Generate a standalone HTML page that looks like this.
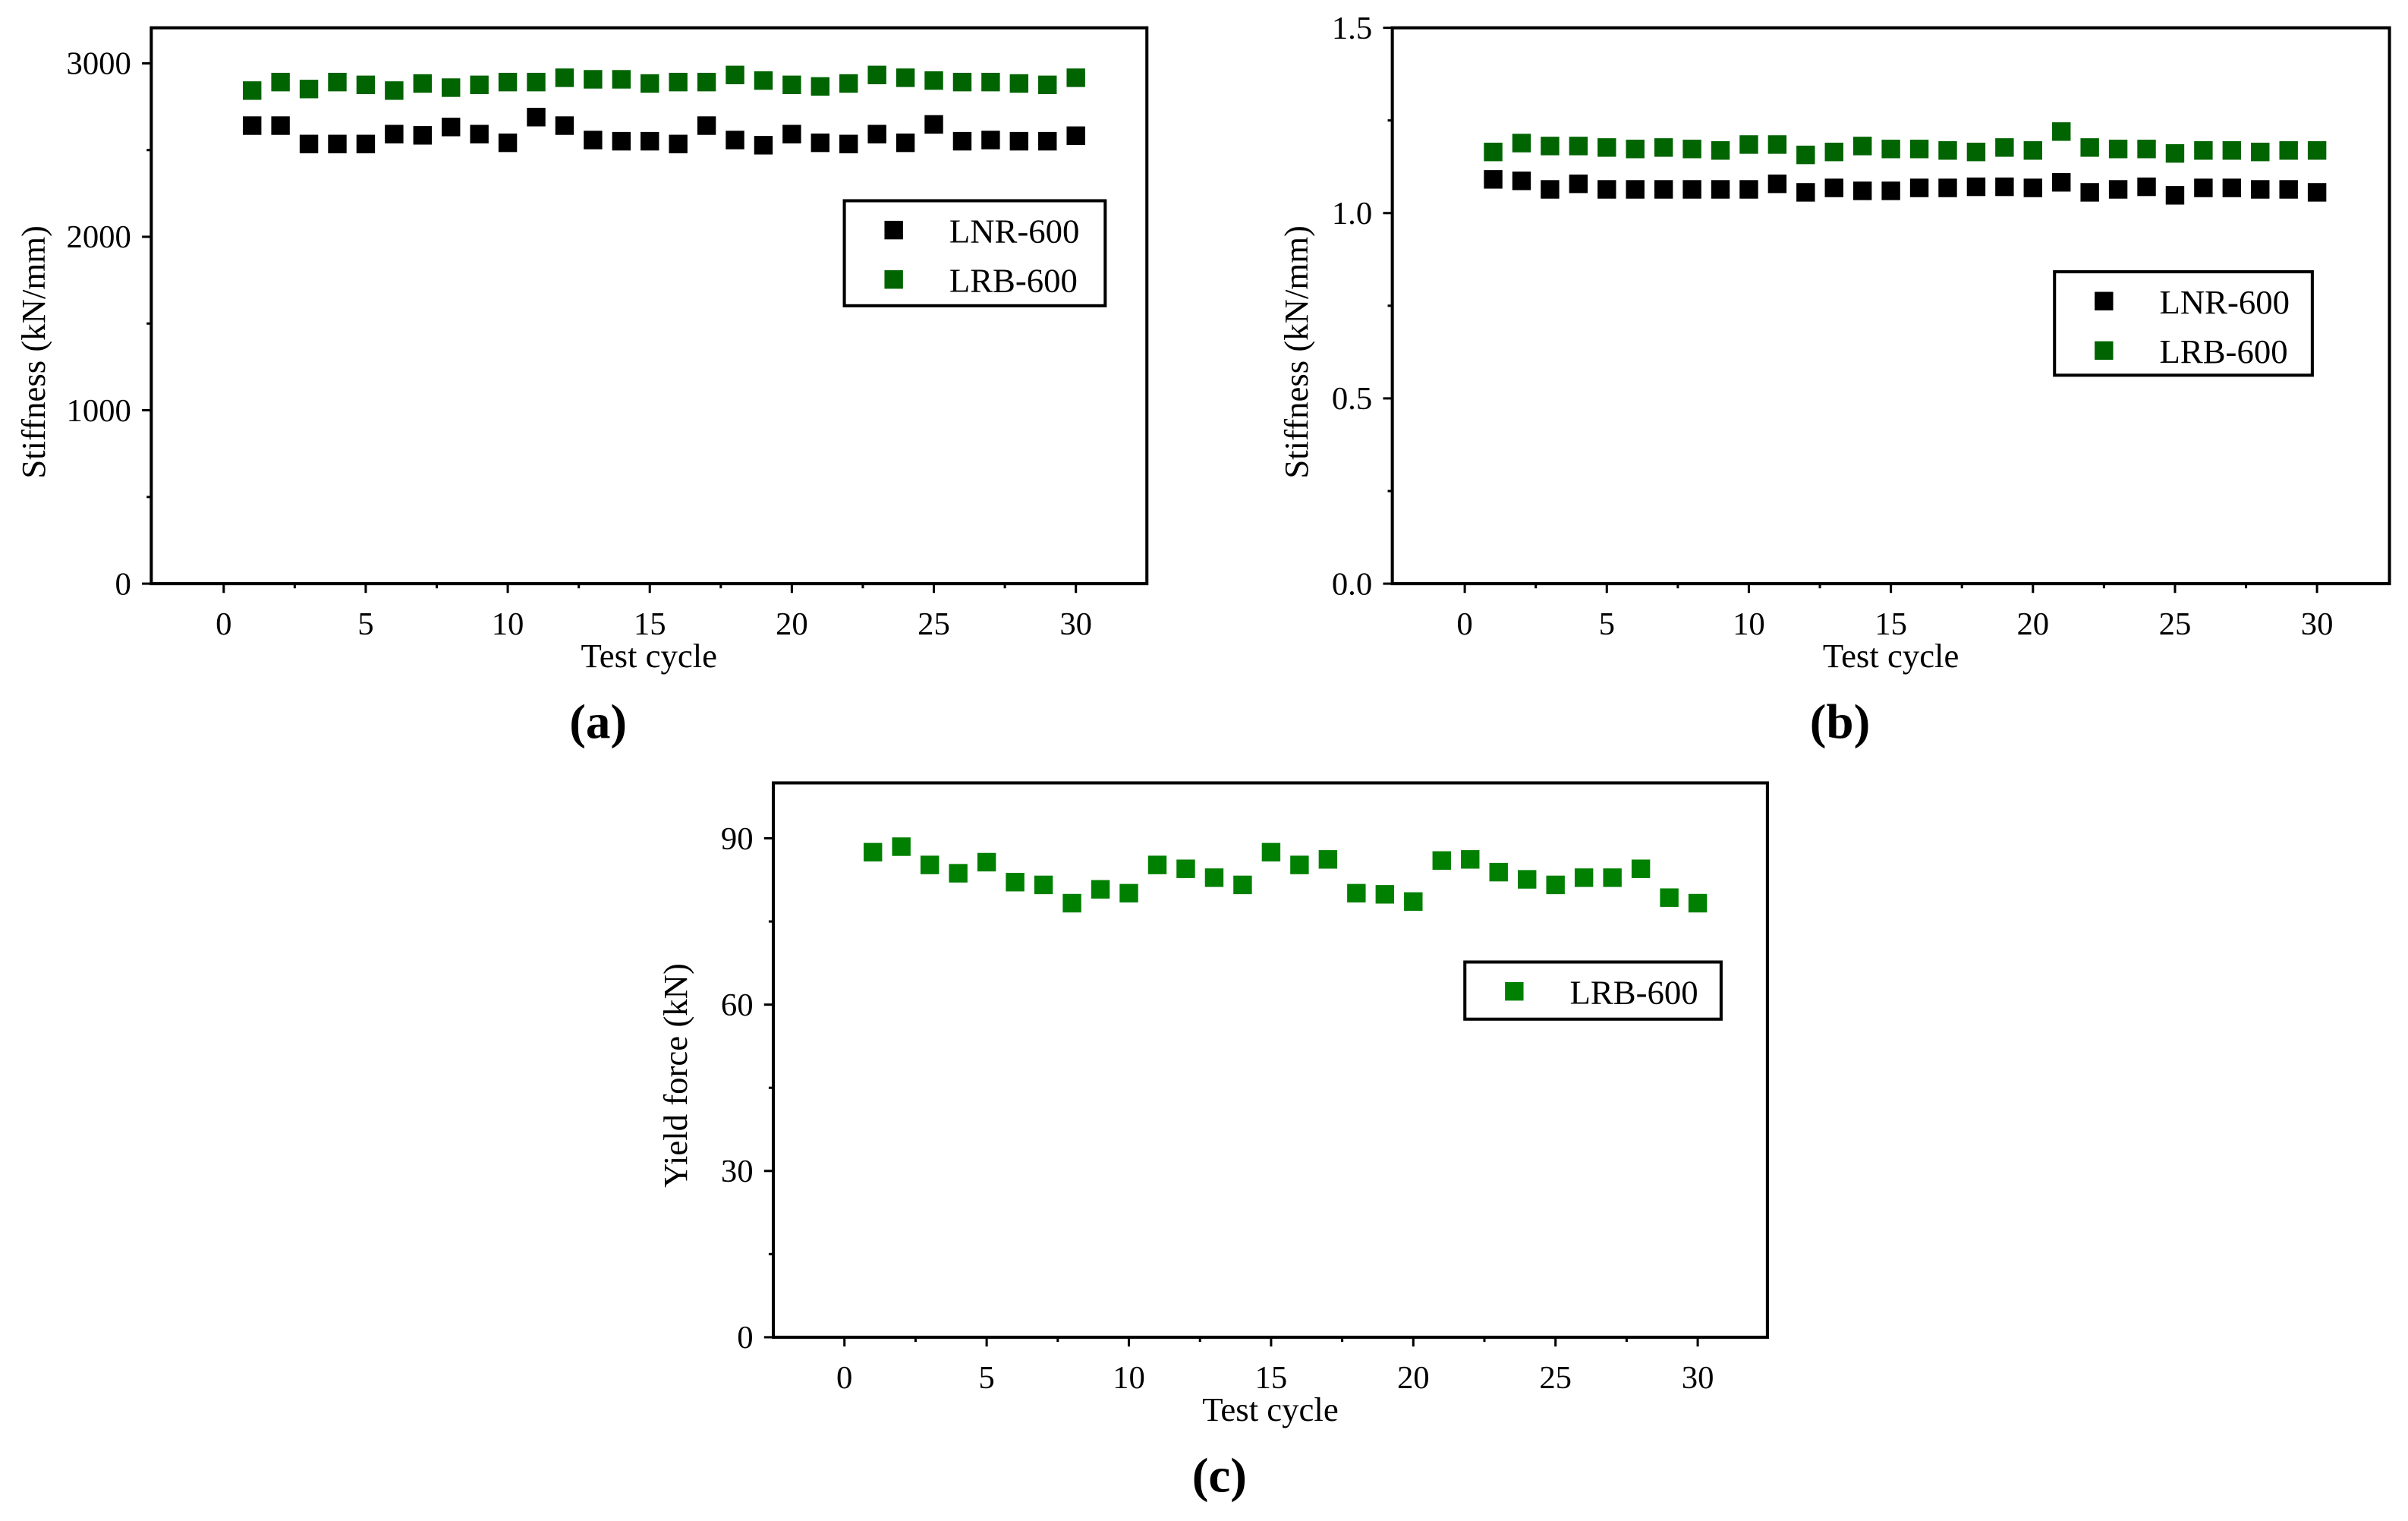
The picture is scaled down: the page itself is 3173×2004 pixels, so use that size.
<!DOCTYPE html>
<html><head><meta charset="utf-8"><style>
html,body{margin:0;padding:0;background:#fff}
svg{display:block}
svg text{font-family:"Liberation Serif","Times New Roman",serif;fill:#000}
</style></head><body>
<svg id="fig" width="3173" height="2004" viewBox="0 0 1560 985" preserveAspectRatio="none" xmlns="http://www.w3.org/2000/svg" font-family="Liberation Serif, serif"></svg>
<script>
const cycles = Array.from({length:30},(_,i)=>i+1);
const aLNR = [2641,2641,2535,2535,2535,2592,2585,2633,2592,2542,2690,2641,2558,2551,2551,2535,2641,2558,2528,2592,2542,2535,2592,2542,2648,2551,2558,2551,2551,2583];
const aLRB = [2843,2892,2852,2892,2876,2843,2884,2860,2876,2892,2892,2917,2908,2908,2884,2892,2892,2933,2901,2876,2867,2884,2933,2917,2901,2892,2892,2884,2876,2917];
const bLNR = [1.091,1.087,1.064,1.079,1.064,1.064,1.064,1.064,1.064,1.064,1.079,1.056,1.068,1.060,1.060,1.068,1.068,1.071,1.071,1.068,1.083,1.056,1.064,1.071,1.048,1.068,1.068,1.064,1.064,1.056];
const bLRB = [1.165,1.189,1.181,1.181,1.177,1.173,1.177,1.173,1.169,1.185,1.185,1.157,1.165,1.181,1.173,1.173,1.169,1.165,1.177,1.169,1.220,1.177,1.173,1.173,1.161,1.169,1.169,1.165,1.169,1.169];
const cLRB = [87.5,88.5,85.2,83.7,85.7,82.1,81.6,78.3,80.8,80.1,85.2,84.5,82.9,81.6,87.5,85.2,86.2,80.1,79.9,78.6,86.0,86.2,83.9,82.6,81.6,82.9,82.9,84.5,79.3,78.3];
const xTicks = [0,5,10,15,20,25,30];
const aYTicks = [0,1000,2000,3000];
const bYTicks = [0.0,0.5,1.0,1.5];
const bYLabels = ["0.0","0.5","1.0","1.5"];
const cYTicks = [0,30,60,90];

const NS="http://www.w3.org/2000/svg";
const svg=document.getElementById('fig');
function mk(tag,attrs,parent){const e=document.createElementNS(NS,tag);for(const k in attrs)e.setAttribute(k,attrs[k]);(parent||svg).appendChild(e);return e;}
function txt(s,attrs,parent){attrs['font-family']='Liberation Serif, serif';const e=mk('text',attrs,parent);e.textContent=s;return e;}

function panel(cfg){
  const g=mk('g',{});
  
  
  const {L,R,T,B,xmin,xmax,ymin,ymax}=cfg;
  const sx=v=>L+(v-xmin)/(xmax-xmin)*(R-L);
  const sy=v=>B-(v-ymin)/(ymax-ymin)*(B-T);
  const box=mk('rect',{x:L,y:T,width:R-L,height:B-T,fill:'none',stroke:'#000','stroke-width':2},g);
  
  
  xTicks.forEach((v,i)=>{
    mk('line',{x1:sx(v),x2:sx(v),y1:B,y2:B+6,stroke:'#000','stroke-width':1.5},g);
    if(i<xTicks.length-1) mk('line',{x1:sx(v+2.5),x2:sx(v+2.5),y1:B,y2:B+3,stroke:'#000','stroke-width':1.5},g);
    const t=txt(String(v),{x:sx(v),y:B+33,'font-size':21,'text-anchor':'middle'},g);
    
    
  });
  cfg.yTicks.forEach((v,i)=>{
    mk('line',{x1:L-6,x2:L,y1:sy(v),y2:sy(v),stroke:'#000','stroke-width':1.5},g);
    if(i<cfg.yTicks.length-1){const m=(v+cfg.yTicks[i+1])/2;mk('line',{x1:L-3,x2:L,y1:sy(m),y2:sy(m),stroke:'#000','stroke-width':1.5},g);}
    const t=txt(cfg.yLabels?cfg.yLabels[i]:String(v),{x:L-13,y:sy(v)+7,'font-size':21,'text-anchor':'end'},g);
    
    
  });
  const xt=txt('Test cycle',{x:(L+R)/2,y:B+54,'font-size':22,'text-anchor':'middle'},g);
  
  
  const cy=(T+B)/2+cfg.ytOff;
  const yt=txt(cfg.ytitle,{x:0,y:0,'font-size':22,'text-anchor':'middle',transform:`translate(${cfg.ytX},${cy}) rotate(-90)`},g);
  
  
  cfg.series.forEach(s=>{
    cycles.forEach((c,i)=>{
      const r=mk('rect',{x:sx(c)-6,y:sy(s.data[i])-6,width:12,height:12,fill:s.color},g);
      
      
    });
  });
  const lg=cfg.legend;
  const lb=mk('rect',{x:lg.x,y:lg.y,width:lg.w,height:lg.h,fill:'#fff',stroke:'#000','stroke-width':2},g);
  
  
  cfg.series.forEach((s,i)=>{
    const ry=lg.y+19+i*32;
    const m=mk('rect',{x:lg.x+26,y:ry-6,width:12,height:12,fill:s.color},g);
    
    
    const t=txt(s.label,{x:lg.x+68,y:ry+8,'font-size':22},g);
    
    
  });
  const pl=txt(cfg.tag,{x:(L+R)/2-33,y:B+100,'font-size':32,'text-anchor':'middle','font-weight':'bold'},g);
  
  
}

panel({name:'panel-a',L:98,R:743,T:18,B:378,xmin:-2.55,xmax:32.5,ymin:0,ymax:3205,yTicks:aYTicks,
  ytitle:'Stiffness (kN/mm)',ytX:29,ytOff:30,tag:'(a)',
  series:[{key:'lnr-600',label:'LNR-600',color:'#000',data:aLNR},{key:'lrb-600',label:'LRB-600',color:'#006400',data:aLRB}],
  legend:{x:547,y:130,w:169,h:68}});
panel({name:'panel-b',L:902,R:1548,T:18,B:378,xmin:-2.55,xmax:32.55,ymin:0,ymax:1.5,yTicks:bYTicks,yLabels:bYLabels,
  ytitle:'Stiffness (kN/mm)',ytX:847,ytOff:30,tag:'(b)',
  series:[{key:'lnr-600',label:'LNR-600',color:'#000',data:bLNR},{key:'lrb-600',label:'LRB-600',color:'#006400',data:bLRB}],
  legend:{x:1331,y:176,w:167,h:67}});
panel({name:'panel-c',L:501,R:1145,T:507,B:866,xmin:-2.5,xmax:32.45,ymin:0,ymax:100,yTicks:cYTicks,
  ytitle:'Yield force (kN)',ytX:445,ytOff:10,tag:'(c)',
  series:[{key:'lrb-600',label:'LRB-600',color:'#008000',data:cLRB}],
  legend:{x:949,y:623,w:166,h:37}});
</script>
</body></html>
